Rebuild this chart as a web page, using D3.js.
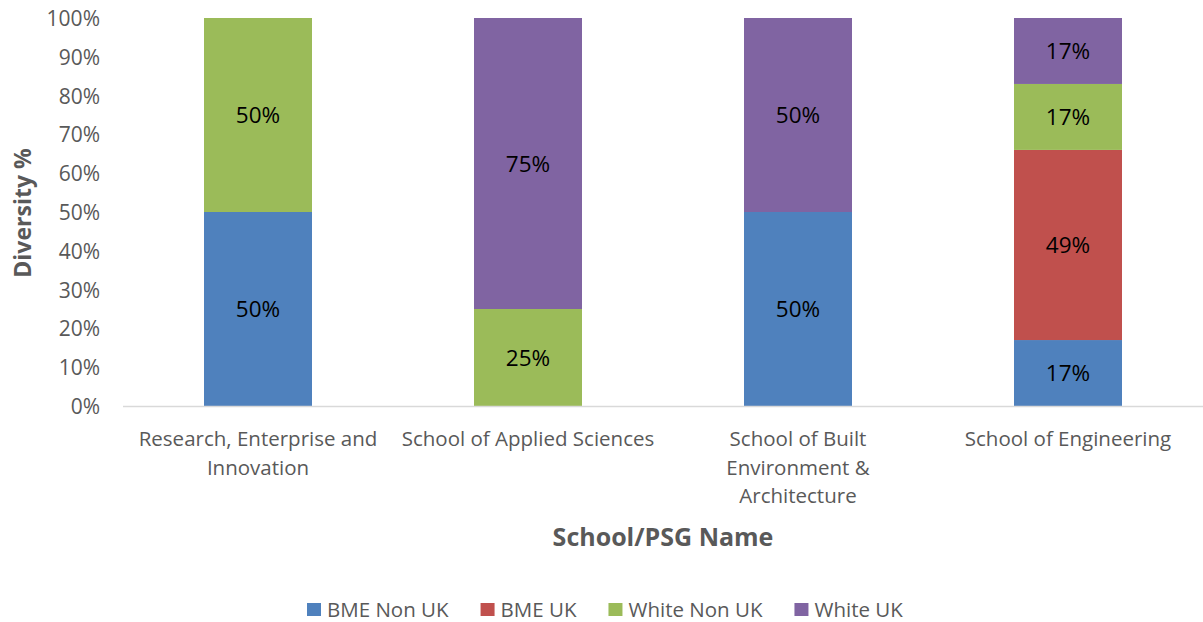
<!DOCTYPE html>
<html><head><meta charset="utf-8">
<script src="https://cdn.jsdelivr.net/npm/d3@7"></script>
<style>body{margin:0;background:#fff}svg{display:block}text{font-family:"Open Sans",sans-serif}</style>
</head><body>
<svg id="c" width="1203" height="622"></svg>
<script>
const categories = ["Research, Enterprise and Innovation", "School of Applied Sciences", "School of Built Environment & Architecture", "School of Engineering"];
const categoryLines = [["Research, Enterprise and", "Innovation"], ["School of Applied Sciences"], ["School of Built", "Environment &", "Architecture"], ["School of Engineering"]];
const seriesNames = ["BME Non UK", "BME UK", "White Non UK", "White UK"];
const bmeNonUK = [50, 0, 50, 17];
const bmeUK = [0, 0, 0, 49];
const whiteNonUK = [50, 25, 0, 17];
const whiteUK = [0, 75, 50, 17];
const yTicks = [0, 10, 20, 30, 40, 50, 60, 70, 80, 90, 100];
const colors = ["#4f81bd", "#c0504d", "#9bbb59", "#8064a2"];

const svg = d3.select("#c");
const m = {l: 123, r: 0, t: 18, b: 216};
const W = 1203, H = 622;
const x = d3.scaleBand().domain(categories).range([m.l, W - m.r]).paddingInner(0.6).paddingOuter(0.3);
const y = d3.scaleLinear().domain([0, 100]).range([H - m.b, m.t]);

const rows = categories.map((c, i) => ({cat: c, "BME Non UK": bmeNonUK[i], "BME UK": bmeUK[i], "White Non UK": whiteNonUK[i], "White UK": whiteUK[i]}));
const stack = d3.stack().keys(seriesNames)(rows);

// y axis labels
const yAxis = svg.append("g").attr("transform", `translate(100,0)`)
  .call(d3.axisLeft(y).tickValues(yTicks).tickFormat(d => d + "%").tickSize(0).tickPadding(0));
yAxis.select(".domain").remove();
yAxis.selectAll("text").attr("font-size", 21).attr("fill", "#595959").attr("font-family", "Open Sans").attr("dy", "0.36em");

// bars
stack.forEach((s, si) => {
  const g = svg.append("g").attr("fill", colors[si]);
  s.forEach((d, i) => {
    if (d[1] - d[0] <= 0) return;
    g.append("rect").attr("x", x(d.data.cat)).attr("width", x.bandwidth())
      .attr("y", y(d[1])).attr("height", y(d[0]) - y(d[1]));
    svg.append("text").attr("x", x(d.data.cat) + x.bandwidth() / 2).attr("y", (y(d[0]) + y(d[1])) / 2)
      .attr("dy", "0.36em").attr("text-anchor", "middle").attr("font-size", 22.5).attr("fill", "#000")
      .text((d[1] - d[0]) + "%");
  });
});

// x axis
svg.append("line").attr("x1", m.l).attr("x2", W - m.r).attr("y1", y(0) + 0.5).attr("y2", y(0) + 0.5)
  .attr("stroke", "#d9d9d9").attr("stroke-width", 1.5);
const xg = svg.append("g").attr("transform", `translate(0,${y(0)})`)
  .call(d3.axisBottom(x).tickSize(0).tickFormat(""));
xg.select(".domain").remove();
categories.forEach((c, i) => {
  const t = svg.append("text").attr("text-anchor", "middle").attr("font-size", 20.5).attr("fill", "#595959");
  categoryLines[i].forEach((ln, k) => {
    t.append("tspan").attr("x", x(c) + x.bandwidth() / 2).attr("y", 446 + k * 28.5).text(ln);
  });
});

// titles
svg.append("text").attr("x", 663).attr("y", 546).attr("text-anchor", "middle").attr("font-size", 25)
  .attr("font-weight", "bold").attr("fill", "#595959").text("School/PSG Name");
svg.append("text").attr("transform", "translate(31,213) rotate(-90)").attr("text-anchor", "middle")
  .attr("font-size", 23).attr("font-weight", "bold").attr("fill", "#595959").text("Diversity %");

// legend
let lx = 307;
seriesNames.forEach((n, i) => {
  const g = svg.append("g").attr("transform", `translate(${lx},603)`);
  g.append("rect").attr("width", 14).attr("height", 13).attr("fill", colors[i]);
  const t = g.append("text").attr("x", 20).attr("y", 14).attr("font-size", 20.5).attr("fill", "#595959").text(n);
  lx += 20 + t.node().getComputedTextLength() + 32;
});
</script>
</body></html>
